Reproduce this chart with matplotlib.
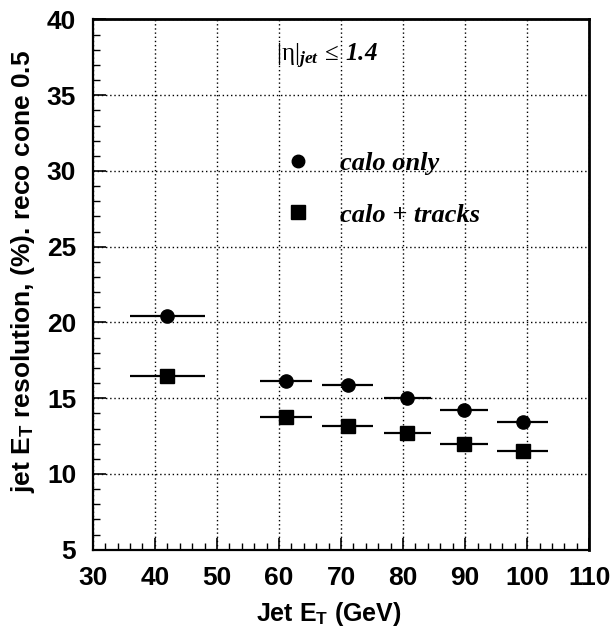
import matplotlib

matplotlib.use("Agg")
import matplotlib.pyplot as plt  # noqa: E402
from matplotlib.lines import Line2D  # noqa: E402
from matplotlib.ticker import MultipleLocator  # noqa: E402

# Jet E_T bins (GeV) and half widths
jet_et = [42.0, 61.2, 71.1, 80.7, 89.8, 99.3]
jet_et_err = [6.0, 4.2, 4.1, 3.8, 3.9, 4.1]

# resolution (%) for the two reconstructions
calo_only = [20.4, 16.15, 15.9, 15.0, 14.2, 13.45]
calo_tracks = [16.5, 13.75, 13.15, 12.7, 11.95, 11.55]

SANS = "Liberation Sans"
SERIF = "Liberation Serif"

plt.rcParams["mathtext.fontset"] = "custom"
plt.rcParams["mathtext.rm"] = SERIF
plt.rcParams["mathtext.it"] = SERIF + ":italic:bold"
plt.rcParams["mathtext.bf"] = SERIF + ":italic:bold"
plt.rcParams["mathtext.sf"] = SANS + ":bold"

fig = plt.figure(figsize=(6.15, 6.29), dpi=100)
ax = fig.add_axes([0.151, 0.126, 0.807, 0.843])

err_kw = dict(fmt="none", ecolor="black", elinewidth=1.6, capsize=0)
ax.errorbar(jet_et, calo_only, xerr=jet_et_err, **err_kw)
ax.errorbar(jet_et, calo_tracks, xerr=jet_et_err, **err_kw)
ax.plot(jet_et, calo_only, "o", color="black", markersize=9.5, linestyle="none")
ax.plot(jet_et, calo_tracks, "s", color="black", markersize=9.5, linestyle="none")

ax.set_xlim(30, 110)
ax.set_ylim(5, 40)
ax.xaxis.set_major_locator(MultipleLocator(10))
ax.xaxis.set_minor_locator(MultipleLocator(2))
ax.yaxis.set_major_locator(MultipleLocator(5))
ax.yaxis.set_minor_locator(MultipleLocator(1))
ax.tick_params(which="both", direction="in", top=False, right=False)
ax.tick_params(which="major", length=9, width=1.2)
ax.tick_params(which="minor", length=5, width=1.0)
for lab in ax.get_xticklabels() + ax.get_yticklabels():
    lab.set_fontfamily(SANS)
    lab.set_fontweight("bold")
    lab.set_fontsize(19)
ax.tick_params(axis="x", pad=12)
ax.tick_params(axis="y", pad=12)

ax.grid(True, which="major", color="black", linestyle=(0, (1, 2)), linewidth=1.0)
ax.set_axisbelow(True)
for side in ["left", "bottom"]:
    ax.spines[side].set_linewidth(1.6)
for side in ["top", "right"]:
    ax.spines[side].set_linewidth(2.0)

ax.set_xlabel(r"Jet E$_{\mathsf{T}}$ (GeV)", fontsize=18, fontweight="bold",
              fontfamily=SANS)
ax.xaxis.set_label_coords(0.475, -0.095)
ax.set_ylabel(r"jet E$_{\mathsf{T}}$ resolution, (%). reco cone 0.5", fontsize=19,
              fontweight="bold", fontfamily=SANS)
ax.yaxis.set_label_coords(-0.112, 0.525)

ax.text(0.37, 0.93, r"$\mathrm{|\eta|}_{\mathit{jet}}\,\leq\,\mathbf{1.4}$",
        transform=ax.transAxes, fontsize=18, va="center", ha="left")

handles = [
    Line2D([], [], marker="o", color="black", linestyle="none", markersize=9),
    Line2D([], [], marker="s", color="black", linestyle="none", markersize=9.5),
]
ax.legend(handles, ["calo only", "calo + tracks"], loc="upper left",
          bbox_to_anchor=(0.338, 0.795), frameon=False, handlelength=1.0,
          handletextpad=1.1, labelspacing=1.05,
          prop={"family": SERIF, "weight": "bold", "style": "italic", "size": 19})

fig.savefig("out.png", dpi=100, facecolor="white")
